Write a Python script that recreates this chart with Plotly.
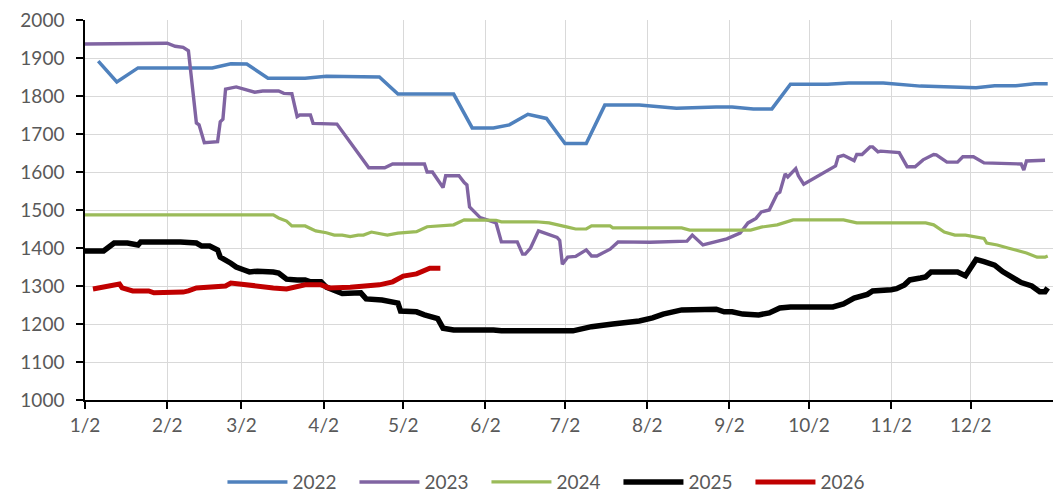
import plotly.graph_objects as go

# Seasonal price curves, one series per year, plotted on a common Jan-Dec calendar
BASE_YEAR = 2021

dates_2022 = ["01-07", "01-14", "01-22", "02-19", "02-26", "03-04", "03-12", "03-26", "04-03", "04-23",
              "04-30", "05-21", "05-28", "06-05", "06-11", "06-18", "06-25", "07-02", "07-10", "07-17",
              "07-30", "08-13", "08-28", "09-03", "09-11", "09-18", "09-25", "10-09", "10-17", "10-30",
              "11-13", "11-27", "12-04", "12-11", "12-19", "12-26", "12-31"]
values_2022 = [1892, 1837, 1874, 1874, 1885, 1884, 1847, 1847, 1852, 1850,
               1805, 1805, 1716, 1716, 1724, 1752, 1741, 1675, 1675, 1776,
               1776, 1768, 1771, 1771, 1766, 1766, 1831, 1831, 1834, 1834,
               1826, 1822, 1822, 1827, 1827, 1832, 1832]

dates_2023 = ["01-02", "01-08", "01-12", "02-02", "02-05", "02-08", "02-10", "02-13", "02-14", "02-16",
              "02-21", "02-22", "02-23", "02-24", "02-28", "03-04", "03-07", "03-10", "03-16", "03-18",
              "03-21", "03-23", "03-24", "03-28", "03-29", "04-07", "04-19", "04-25", "04-28", "05-10",
              "05-11", "05-13", "05-17", "05-18", "05-23", "05-25", "05-26", "05-27", "05-31", "06-06",
              "06-08", "06-14", "06-16", "06-17", "06-19", "06-22", "06-29", "06-30", "07-01", "07-03",
              "07-06", "07-10", "07-12", "07-14", "07-19", "07-22", "07-26", "08-03", "08-17", "08-19",
              "08-23", "08-28", "09-01", "09-06", "09-09", "09-12", "09-14", "09-17", "09-20", "09-21",
              "09-23", "09-24", "09-27", "09-28", "09-30", "10-12", "10-13", "10-15", "10-19", "10-20",
              "10-22", "10-25", "10-26", "10-28", "10-29", "11-05", "11-08", "11-11", "11-14", "11-18",
              "11-19", "11-23", "11-27", "11-29", "12-03", "12-07", "12-13", "12-21", "12-22", "12-23",
              "12-30"]
values_2023 = [1937, 1937, 1938, 1939, 1931, 1928, 1919, 1729, 1724, 1677,
               1680, 1732, 1739, 1818, 1824, 1816, 1810, 1813, 1813, 1807,
               1806, 1746, 1750, 1750, 1728, 1726, 1611, 1611, 1621, 1621,
               1600, 1600, 1559, 1590, 1590, 1572, 1566, 1508, 1480, 1466,
               1416, 1416, 1384, 1384, 1400, 1445, 1428, 1420, 1357, 1376,
               1378, 1395, 1379, 1379, 1397, 1416, 1416, 1415, 1418, 1434,
               1408, 1416, 1424, 1439, 1466, 1478, 1495, 1500, 1543, 1547,
               1595, 1587, 1609, 1590, 1568, 1616, 1640, 1644, 1630, 1646,
               1646, 1666, 1666, 1653, 1655, 1651, 1614, 1614, 1632, 1646,
               1645, 1626, 1626, 1640, 1640, 1624, 1623, 1621, 1605, 1629,
               1631]

dates_2024 = ["01-02", "03-14", "03-16", "03-19", "03-21", "03-26", "03-30", "04-03", "04-06", "04-09",
              "04-12", "04-15", "04-17", "04-20", "04-26", "04-30", "05-07", "05-11", "05-21", "05-25",
              "06-06", "06-08", "06-21", "06-24", "06-26", "07-03", "07-06", "07-10", "07-12", "07-19",
              "07-20", "08-15", "08-18", "09-10", "09-14", "09-20", "09-26", "10-15", "10-20", "11-15",
              "11-18", "11-22", "11-26", "11-30", "12-04", "12-07", "12-08", "12-12", "12-16", "12-20",
              "12-23", "12-27", "12-30", "12-31"]
values_2024 = [1487, 1487, 1479, 1471, 1458, 1458, 1445, 1440, 1434, 1434,
               1430, 1434, 1434, 1442, 1434, 1439, 1443, 1456, 1461, 1474,
               1473, 1469, 1469, 1466, 1466, 1455, 1450, 1450, 1458, 1458,
               1453, 1453, 1447, 1447, 1455, 1461, 1474, 1474, 1466, 1466,
               1461, 1442, 1434, 1434, 1430, 1425, 1413, 1408, 1400, 1392,
               1387, 1376, 1376, 1379]

dates_2025 = ["01-02", "01-09", "01-13", "01-18", "01-22", "01-23", "02-07", "02-10", "02-13", "02-15",
              "02-18", "02-21", "02-22", "02-26", "02-28", "03-03", "03-05", "03-08", "03-11", "03-14",
              "03-16", "03-19", "03-23", "03-26", "03-28", "04-01", "04-03", "04-09", "04-16", "04-18",
              "04-24", "04-30", "05-01", "05-07", "05-10", "05-15", "05-17", "05-21", "06-05", "06-08",
              "07-05", "07-12", "07-20", "07-30", "08-04", "08-08", "08-15", "08-21", "08-28", "08-31",
              "09-03", "09-07", "09-13", "09-17", "09-21", "09-25", "10-11", "10-15", "10-19", "10-24",
              "10-26", "11-02", "11-04", "11-07", "11-09", "11-13", "11-15", "11-17", "11-27", "11-30",
              "12-04", "12-07", "12-11", "12-14", "12-17", "12-21", "12-25", "12-28", "12-30", "12-31"]
values_2025 = [1392, 1392, 1413, 1413, 1408, 1416, 1416, 1413, 1413, 1405,
               1405, 1395, 1376, 1360, 1350, 1342, 1337, 1339, 1339, 1337,
               1334, 1318, 1316, 1316, 1311, 1311, 1297, 1280, 1282, 1266,
               1263, 1255, 1234, 1232, 1224, 1214, 1189, 1184, 1184, 1182,
               1182, 1193, 1200, 1208, 1216, 1226, 1237, 1239, 1239, 1232,
               1232, 1226, 1224, 1229, 1242, 1245, 1245, 1253, 1268, 1278,
               1287, 1290, 1293, 1303, 1316, 1321, 1324, 1337, 1337, 1327,
               1370, 1364, 1355, 1338, 1327, 1309, 1300, 1285, 1285, 1295]

dates_2026 = ["01-05", "01-09", "01-14", "01-15", "01-16", "01-20", "01-26", "01-28", "02-08", "02-10",
              "02-13", "02-24", "02-26", "03-01", "03-08", "03-14", "03-19", "03-23", "03-26", "04-01",
              "04-04", "04-12", "04-23", "04-28", "05-02", "05-07", "05-10", "05-12", "05-16"]
values_2026 = [1292, 1297, 1303, 1305, 1295, 1287, 1287, 1282, 1284, 1287,
               1295, 1300, 1308, 1305, 1300, 1295, 1292, 1297, 1303, 1303,
               1295, 1297, 1303, 1311, 1326, 1332, 1342, 1347, 1347]

tick_dates = ["01-02", "02-02", "03-02", "04-02", "05-02", "06-02",
              "07-02", "08-02", "09-02", "10-02", "11-02", "12-02"]
tick_labels = ["1/2", "2/2", "3/2", "4/2", "5/2", "6/2",
               "7/2", "8/2", "9/2", "10/2", "11/2", "12/2"]


def on_calendar(md_list):
    return [f"{BASE_YEAR}-{md}" for md in md_list]


series = [
    ("2022", dates_2022, values_2022, "#4F81BD", 3.5),
    ("2023", dates_2023, values_2023, "#8064A2", 3.4),
    ("2024", dates_2024, values_2024, "#9BBB59", 3.2),
    ("2025", dates_2025, values_2025, "#000000", 5.5),
    ("2026", dates_2026, values_2026, "#C00000", 5.0),
]

fig = go.Figure()
for name, d, v, color, width in series:
    fig.add_trace(go.Scatter(
        x=on_calendar(d), y=v, name=name, mode="lines",
        line=dict(color=color, width=width),
    ))

font = dict(family="Lato", size=19, color="#595959")

fig.update_layout(
    width=1053, height=493,
    margin=dict(l=85, r=0, t=20, b=93, autoexpand=False),
    paper_bgcolor="white", plot_bgcolor="white",
    font=font,
    showlegend=True,
    legend=dict(
        orientation="h", x=0.142, xanchor="left", y=-0.216, yanchor="middle",
        font=font, itemwidth=60, entrywidth=57, traceorder="normal",
        bgcolor="rgba(0,0,0,0)",
    ),
)

fig.update_xaxes(
    type="date",
    range=[f"{BASE_YEAR}-01-02", f"{BASE_YEAR + 1}-01-02"],
    tickmode="array", tickvals=on_calendar(tick_dates), ticktext=tick_labels,
    showgrid=True, gridcolor="#D9D9D9", gridwidth=1.3,
    showline=True, linecolor="#000000", linewidth=1.5,
    ticks="outside", ticklen=7, tickcolor="#000000", tickwidth=1.5,
    tickfont=font, zeroline=False,
)

fig.update_yaxes(
    range=[1000, 2000], dtick=100, tick0=1000,
    showgrid=True, gridcolor="#D9D9D9", gridwidth=1.3,
    showline=True, linecolor="#000000", linewidth=1.5,
    ticks="outside", ticklen=7, tickcolor="#000000", tickwidth=1.5,
    tickfont=font, zeroline=False, ticklabelstandoff=8,
)

fig.write_html("out.html")
